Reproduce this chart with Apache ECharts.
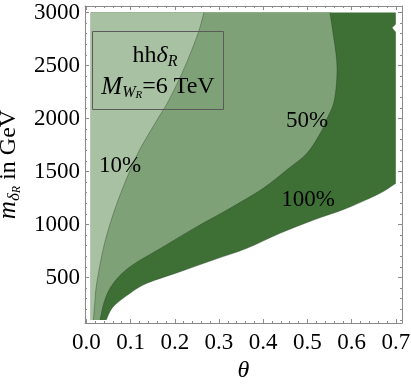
<!DOCTYPE html>
<html><head><meta charset="utf-8">
<script src="https://cdn.jsdelivr.net/npm/echarts@6/dist/echarts.min.js"></script>
<style>html,body{margin:0;padding:0;background:#fff}#c{width:411px;height:387px}</style>
</head><body><div id="c"></div>
<script>
// ---- data ----
const thetaTicks = [0, 0.1, 0.2, 0.3, 0.4, 0.5, 0.6, 0.7];
const massTicks = [500, 1000, 1500, 2000, 2500, 3000];
const thetaRange = [0.01, 0.7];
const massRange = [100, 3000];
// 10% contour (theta as function of m)
const m10 =     [100,   250,   400,   600,   800,   1050,  1350,  1675,  1986,  2175,  2489,  2807,  3000];
const theta10 = [0.016, 0.019, 0.022, 0.030, 0.040, 0.057, 0.083, 0.117, 0.160, 0.187, 0.223, 0.253, 0.266];
// 50% contour
const m50 =     [100,   290,   445,   602,   791,   980,   1153,  1342,  1514,  1672,  1860,  1986,  2175,  2489,  2807,  3000];
const theta50 = [0.031, 0.042, 0.061, 0.099, 0.174, 0.250, 0.325, 0.400, 0.453, 0.499, 0.529, 0.543, 0.561, 0.567, 0.558, 0.551];
// 100% contour
const m100 =     [100,   225,   351,   445,   555,   665,   775,   917,   1042,  1153,  1294,  1389];
const theta100 = [0.045, 0.061, 0.099, 0.137, 0.212, 0.287, 0.363, 0.438, 0.514, 0.589, 0.664, 0.700];
// small notch on the right edge near the top
const mNotch =     [2815, 2855, 2890];
const thetaNotch = [0.700, 0.692, 0.700];
const contourLabels = ['10%', '50%', '100%'];

// ---- build ----
const serif = 'Liberation Serif';
const frameColor = '#8a8a8a';
const colLight = '#a8c1a2', colMed = '#7fa177', colDark = '#3e7035';

const curve = (th, m) => th.map((t, i) => [t, m[i]]);
const c10 = curve(theta10, m10), c50 = curve(theta50, m50), c100 = curve(theta100, m100);
const cNotch = curve(thetaNotch, mNotch);

const f = n => n.toFixed(2);
// rendering spline (Catmull-Rom as cubic Bezier) through read points, in pixel space
function splineSeg(px) {
  let d = '';
  for (let i = 0; i < px.length - 1; i++) {
    const p0 = px[i - 1] || px[i], p1 = px[i], p2 = px[i + 1], p3 = px[i + 2] || px[i + 1];
    const c1 = [p1[0] + (p2[0] - p0[0]) / 6, p1[1] + (p2[1] - p0[1]) / 6];
    const c2 = [p2[0] - (p3[0] - p1[0]) / 6, p2[1] - (p3[1] - p1[1]) / 6];
    d += 'C' + f(c1[0]) + ' ' + f(c1[1]) + ' ' + f(c2[0]) + ' ' + f(c2[1]) + ' ' + f(p2[0]) + ' ' + f(p2[1]);
  }
  return d;
}
const L = p => 'L' + f(p[0]) + ' ' + f(p[1]);
const M = p => 'M' + f(p[0]) + ' ' + f(p[1]);

function regionSeries(c, tail, color, z) {
  return {
    type: 'custom', z: z, clip: false, silent: true,
    data: [[c[0][0], c[0][1]]],
    renderItem: (p, api) => {
      const start = api.coord([thetaRange[0], massRange[0]]);
      const px = c.map(pt => api.coord(pt));
      let d = M(start) + L(px[0]) + splineSeg(px);
      tail.forEach(pt => { d += L(api.coord(pt)); });
      d += 'Z';
      return { type: 'path', shape: { pathData: d }, style: { fill: color, stroke: null } };
    }
  };
}
function lineSeries(c, z) {
  return {
    type: 'custom', z: z, clip: false, silent: true,
    data: [[c[0][0], c[0][1]]],
    renderItem: (p, api) => {
      const px = c.map(pt => api.coord(pt));
      return { type: 'path', shape: { pathData: M(px[0]) + splineSeg(px) },
        style: { fill: null, stroke: 'rgba(30,50,30,0.45)', lineWidth: 0.8 } };
    }
  };
}

const xMin = -0.003, xMax = 0.714, yMin = 71, yMax = 3061;
const thetaMinor = [], massMinor = [];
for (let i = 1; i <= 35; i++) { if (i % 5) thetaMinor.push(+(i * 0.02).toFixed(2)); }
for (let v = 100; v <= 3000; v += 100) { if (v % 500) massMinor.push(v); }

function axis(pos, isX, vals, len, withLabels, withLine) {
  return {
    type: 'value', position: pos, min: isX ? xMin : yMin, max: isX ? xMax : yMax,
    splitLine: { show: false },
    axisLine: { show: withLine, onZero: false, lineStyle: { color: frameColor, width: 1 } },
    axisTick: { show: true, inside: true, length: len, customValues: vals, lineStyle: { color: frameColor, width: 1 } },
    axisLabel: { show: withLabels, customValues: vals, fontFamily: serif, fontSize: 23, color: '#000',
      margin: isX ? 8 : 5, formatter: isX ? (v => v.toFixed(1)) : (v => String(v)) }
  };
}

const xAxes = [
  Object.assign(axis('bottom', true, thetaTicks, 4, true, true), {
    name: 'θ', nameLocation: 'middle', nameGap: 36,
    nameTextStyle: { fontFamily: serif, fontStyle: 'italic', fontSize: 24, color: '#000' }
  }),
  axis('bottom', true, thetaMinor, 2, false, false),
  axis('top', true, thetaTicks, 4, false, true),
  axis('top', true, thetaMinor, 2, false, false)
];
const yAxes = [
  Object.assign(axis('left', false, massTicks, 4, true, true), {
    name: '{i|m}{s|δ}{ss|R}{n| in GeV}', nameLocation: 'middle', nameGap: 56, nameRotate: 90,
    nameTextStyle: {
      fontFamily: serif, fontSize: 24, color: '#000',
      rich: {
        i: { fontFamily: serif, fontStyle: 'italic', fontSize: 25, color: '#000', lineHeight: 29 },
        s: { fontFamily: serif, fontStyle: 'italic', fontSize: 17, color: '#000', verticalAlign: 'bottom', lineHeight: 16 },
        ss: { fontFamily: serif, fontStyle: 'italic', fontSize: 12, color: '#000', verticalAlign: 'bottom', lineHeight: 9 },
        n: { fontFamily: serif, fontSize: 24, color: '#000', lineHeight: 29 }
      }
    }
  }),
  axis('left', false, massMinor, 2, false, false),
  axis('right', false, massTicks, 4, false, true),
  axis('right', false, massMinor, 2, false, false)
];

const option = {
  animation: false,
  backgroundColor: '#fff',
  grid: { left: 85, right: 9, top: 6, bottom: 64, outerBoundsMode: 'none' },
  xAxis: xAxes,
  yAxis: yAxes,
  series: [
    regionSeries(c100, cNotch.concat([[thetaRange[1], massRange[1]], [thetaRange[0], massRange[1]]]), colDark, 1),
    regionSeries(c50, [[thetaRange[0], massRange[1]]], colMed, 2),
    regionSeries(c10, [[thetaRange[0], massRange[1]]], colLight, 3),
    lineSeries(c100, 4),
    lineSeries(c50, 4),
    lineSeries(c10, 4)
  ],
  graphic: [
    { type: 'rect', z: 100, shape: { x: 92.5, y: 31.5, width: 131, height: 78 },
      style: { fill: 'none', stroke: '#5a5a5a', lineWidth: 1 } },
    { type: 'text', z: 100, x: 155, y: 56,
      style: { text: '{n|hh}{i|δ}{s|R}', align: 'center', verticalAlign: 'middle',
        rich: {
          n: { fontFamily: serif, fontSize: 24, fill: '#000', lineHeight: 28 },
          i: { fontFamily: serif, fontStyle: 'italic', fontSize: 24, fill: '#000', lineHeight: 28 },
          s: { fontFamily: serif, fontStyle: 'italic', fontSize: 16, fill: '#000', verticalAlign: 'bottom', lineHeight: 15 }
        } } },
    { type: 'text', z: 100, x: 158, y: 87,
      style: { text: '{i|M}{s|W}{ss|R}{n|=6 TeV}', align: 'center', verticalAlign: 'middle',
        rich: {
          i: { fontFamily: serif, fontStyle: 'italic', fontSize: 25, fill: '#000', lineHeight: 28 },
          s: { fontFamily: serif, fontStyle: 'italic', fontSize: 16, fill: '#000', verticalAlign: 'bottom', lineHeight: 15 },
          ss: { fontFamily: serif, fontStyle: 'italic', fontSize: 11, fill: '#000', verticalAlign: 'bottom', lineHeight: 9 },
          n: { fontFamily: serif, fontSize: 24, fill: '#000', lineHeight: 28 }
        } } },
    { type: 'text', z: 100, x: 120, y: 166,
      style: { text: contourLabels[0], font: '23px "Liberation Serif"', align: 'center', verticalAlign: 'middle', fill: '#000' } },
    { type: 'text', z: 100, x: 307, y: 121,
      style: { text: contourLabels[1], font: '23px "Liberation Serif"', align: 'center', verticalAlign: 'middle', fill: '#000' } },
    { type: 'text', z: 100, x: 308, y: 200,
      style: { text: contourLabels[2], font: '23px "Liberation Serif"', align: 'center', verticalAlign: 'middle', fill: '#000' } }
  ]
};
const chart = echarts.init(document.getElementById('c'), null, { renderer: 'canvas' });
chart.setOption(option);
</script></body></html>
